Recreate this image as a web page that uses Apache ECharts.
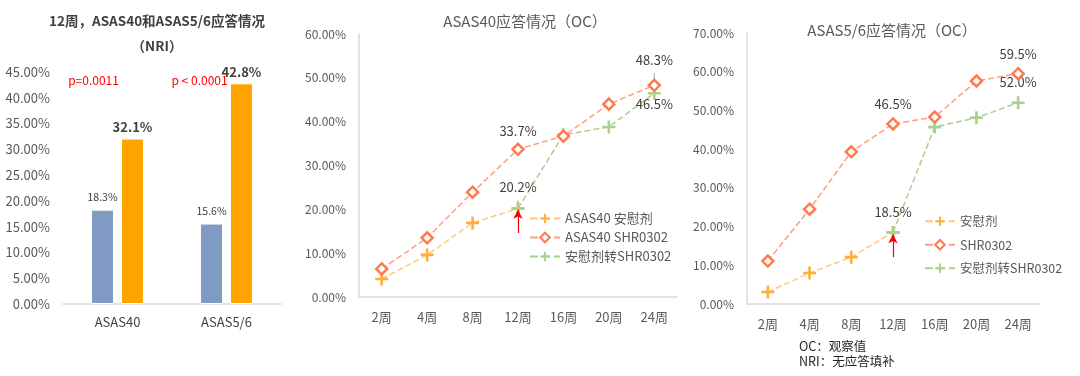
<!DOCTYPE html>
<html>
<head>
<meta charset="utf-8">
<script src="https://cdn.jsdelivr.net/npm/echarts@6/dist/echarts.min.js"></script>
<style>
  html, body { margin: 0; padding: 0; background: #fff; }
  #chart { width: 1080px; height: 376px; }
</style>
</head>
<body>
<div id="chart"></div>
<script>
// left panel: 12周 NRI
const barCategories = ['ASAS40', 'ASAS5/6']
const barPlacebo = [18.3, 15.6]
const barDrug = [32.1, 42.8]
const pValues = ['p=0.0011', 'p < 0.0001']

// OC line panels
const weeks = ['2周', '4周', '8周', '12周', '16周', '20周', '24周']
const asas40Placebo = [4.1, 9.6, 16.9, 20.2, null, null, null]
const asas40Drug = [6.4, 13.5, 23.9, 33.7, 36.7, 44.0, 48.3]
const asas40Switch = [null, null, null, 20.2, 37.0, 38.8, 46.5]
const asas56Placebo = [3.1, 8.0, 12.1, 18.5, null, null, null]
const asas56Drug = [11.1, 24.5, 39.3, 46.5, 48.3, 57.6, 59.5]
const asas56Switch = [null, null, null, 18.5, 45.7, 48.1, 52.0]

const FONT = '"Noto Sans CJK SC", "Noto Sans", sans-serif'
const PLUS = 'path://M4,0H6V4H10V6H6V10H4V6H0V4H4Z'
const C_PLACEBO = '#FFAE3A'
const C_DRUG = '#FF7A4D'
const C_SWITCH = '#A9D18E'

const pct = (v) => v.toFixed(2) + '%'

// labels[i] = label overrides for point i (only those points get a value label)
function withLabels(values, labels) {
  return values.map((v, i) => {
    if (v == null || !labels[i]) return v
    const item = { value: v, label: Object.assign({ show: true }, valLabel, labels[i]) }
    if (labels[i].leader) {
      item.label.offset = [0, -labels[i].leader]
      item.labelLine = { show: true, lineStyle: { color: '#a6a6a6', width: 1 } }
    }
    return item
  })
}

const valLabel = {
  position: 'top',
  distance: 6,
  color: '#404040',
  fontSize: 13,
  fontFamily: FONT,
  formatter: (p) => p.value.toFixed(1) + '%',
}

function lineAxes(gridIndex, max) {
  return {
    x: {
      type: 'category',
      gridIndex,
      data: weeks,
      axisTick: { show: false },
      axisLine: { lineStyle: { color: '#d9d9d9', width: 1.5 } },
      axisLabel: { color: '#595959', fontSize: 13, margin: 14, fontFamily: FONT },
    },
    y: {
      type: 'value',
      gridIndex,
      min: 0,
      max,
      interval: 10,
      axisLine: { show: true, lineStyle: { color: '#d9d9d9', width: 1.5 } },
      axisTick: { show: false },
      splitLine: { show: false },
      axisLabel: { color: '#595959', fontSize: 12, margin: 13, fontFamily: FONT, formatter: pct },
    },
  }
}

function lineSeries(name, data, axisIndex, kind) {
  const base = {
    name,
    type: 'line',
    xAxisIndex: axisIndex,
    yAxisIndex: axisIndex,
    data,
    connectNulls: false,
    z: kind === 'drug' ? 4 : 3,
  }
  if (kind === 'drug') {
    return Object.assign(base, {
      symbol: 'diamond',
      symbolSize: 11,
      lineStyle: { color: '#FF9F7F', type: 'dashed', width: 1.5 },
      itemStyle: { color: '#fff', borderColor: C_DRUG, borderWidth: 2.5 },
    })
  }
  const color = kind === 'placebo' ? C_PLACEBO : C_SWITCH
  return Object.assign(base, {
    symbol: PLUS,
    symbolSize: 13,
    lineStyle: { color: kind === 'placebo' ? '#FFC97A' : C_SWITCH, type: 'dashed', width: 1.5 },
    itemStyle: { color },
  })
}

function arrow(category, from, to) {
  return {
    silent: true,
    symbol: ['none', 'arrow'],
    symbolSize: [7, 9],
    label: { show: false },
    lineStyle: { color: '#FF0000', type: 'solid', width: 1.2 },
    data: [[{ coord: [category, from] }, { coord: [category, to] }]],
  }
}

const a2 = lineAxes(1, 60)
const a3 = lineAxes(2, 70)

const chart = echarts.init(document.getElementById('chart'))

chart.setOption({
  animation: false,
  textStyle: { fontFamily: FONT },
  title: [
    {
      text: '12周，ASAS40和ASAS5/6应答情况\n（NRI）',
      left: 152,
      top: 3,
      textAlign: 'center',
      textStyle: { fontSize: 13.5, fontWeight: 'bold', color: '#404040', lineHeight: 25, fontFamily: FONT },
    },
    {
      text: 'ASAS40应答情况（OC）',
      left: 520,
      top: 9,
      textAlign: 'center',
      textStyle: { fontSize: 15, fontWeight: 'normal', color: '#595959', fontFamily: FONT },
    },
    {
      text: 'ASAS5/6应答情况（OC）',
      left: 887,
      top: 18,
      textAlign: 'center',
      textStyle: { fontSize: 15, fontWeight: 'normal', color: '#595959', fontFamily: FONT },
    },
  ],
  legend: [
    {
      orient: 'vertical',
      left: 524,
      top: 207,
      itemWidth: 30,
      itemHeight: 12,
      itemGap: 6,
      textStyle: { fontSize: 13, color: '#595959', fontFamily: FONT },
      data: ['ASAS40 安慰剂', 'ASAS40 SHR0302', '安慰剂转SHR0302'],
    },
    {
      orient: 'vertical',
      left: 919,
      top: 210,
      itemWidth: 30,
      itemHeight: 12,
      itemGap: 11,
      textStyle: { fontSize: 12.5, color: '#595959', fontFamily: FONT },
      data: ['安慰剂', 'SHR0302', { name: '安慰剂转SHR0302 ' }],
    },
  ],
  grid: [
    { left: 63, top: 72, width: 218, height: 232 },
    { left: 359, top: 34, width: 318, height: 263 },
    { left: 747, top: 33, width: 292, height: 271 },
  ],
  xAxis: [
    {
      type: 'category',
      gridIndex: 0,
      data: barCategories,
      axisTick: { show: false },
      axisLine: { lineStyle: { color: '#d9d9d9', width: 1.5 } },
      axisLabel: { color: '#404040', fontSize: 13, margin: 12, fontFamily: FONT },
    },
    a2.x,
    a3.x,
  ],
  yAxis: [
    {
      type: 'value',
      gridIndex: 0,
      min: 0,
      max: 45,
      interval: 5,
      axisLine: { show: false },
      axisTick: { show: false },
      splitLine: { show: false },
      axisLabel: { color: '#595959', fontSize: 13, margin: 13, fontFamily: FONT, formatter: pct },
    },
    a2.y,
    a3.y,
  ],
  series: [
    {
      name: '安慰剂(NRI)',
      type: 'bar',
      xAxisIndex: 0,
      yAxisIndex: 0,
      data: barPlacebo,
      barWidth: 23,
      barGap: '30%',
      itemStyle: { color: '#7F9AC3', borderColor: '#fff', borderWidth: 1 },
      label: {
        show: true,
        position: 'top',
        distance: 7,
        fontSize: 10.5,
        color: '#404040',
        fontFamily: FONT,
        formatter: (p) => p.value.toFixed(1) + '%',
      },
      markPoint: {
        symbol: 'circle',
        symbolSize: 0,
        silent: true,
        label: { show: true, color: '#FF0000', fontSize: 12, fontFamily: FONT, formatter: (p) => p.name },
        data: barCategories.map((c, i) => ({
          name: pValues[i],
          coord: [c, 43.3],
          label: { offset: [i === 0 ? -9 : -12, 0] },
        })),
      },
    },
    {
      name: 'SHR0302(NRI)',
      type: 'bar',
      xAxisIndex: 0,
      yAxisIndex: 0,
      data: barDrug,
      barWidth: 23,
      itemStyle: { color: '#FFA500', borderColor: '#fff', borderWidth: 1 },
      label: {
        show: true,
        position: 'top',
        distance: 5,
        fontSize: 13,
        fontWeight: 'bold',
        color: '#404040',
        fontFamily: FONT,
        formatter: (p) => p.value.toFixed(1) + '%',
      },
    },

    Object.assign(lineSeries('ASAS40 安慰剂', withLabels(asas40Placebo, { 3: { distance: 2, leader: 6 } }), 1, 'placebo'), {
      markLine: arrow('12周', 14.6, 19.9),
    }),
    lineSeries('ASAS40 SHR0302', withLabels(asas40Drug, { 3: { distance: 5 }, 6: { distance: 2, leader: 10 } }), 1, 'drug'),
    lineSeries('安慰剂转SHR0302', withLabels(asas40Switch, { 6: { position: 'bottom', distance: -2 } }), 1, 'switch'),

    Object.assign(lineSeries('安慰剂', withLabels(asas56Placebo, { 3: { distance: 7 } }), 2, 'placebo'), {
      markLine: arrow('12周', 12.1, 18.0),
    }),
    lineSeries('SHR0302', withLabels(asas56Drug, { 3: { distance: 7 }, 6: { distance: 6 } }), 2, 'drug'),
    lineSeries('安慰剂转SHR0302 ', withLabels(asas56Switch, { 6: { distance: 8 } }), 2, 'switch'),
  ],
  graphic: [
    {
      type: 'text',
      left: 799,
      top: 339,
      style: {
        text: 'OC：观察值\nNRI：无应答填补',
        fill: '#262626',
        font: '12.5px "Noto Sans CJK SC", sans-serif',
        lineHeight: 15,
      },
    },
  ],
})
</script>
</body>
</html>
